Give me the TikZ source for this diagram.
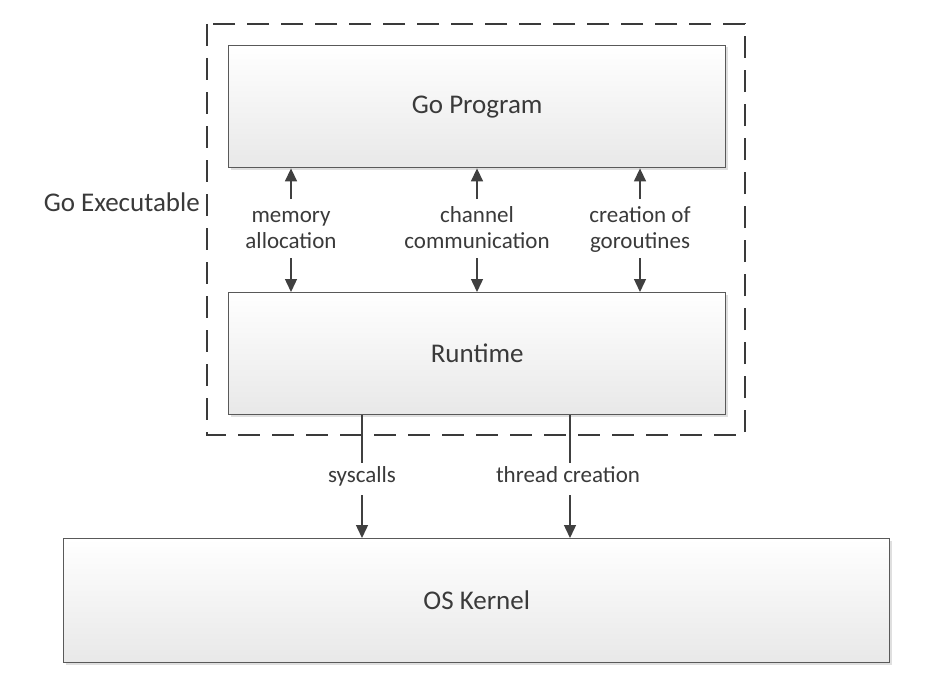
\documentclass[tikz,border=0pt]{standalone}
\usepackage{fontspec}
\setmainfont{Carlito}
\usetikzlibrary{arrows.meta,shadows,calc}
\definecolor{edge}{HTML}{595959}
\definecolor{ink}{HTML}{3A3A3A}
\definecolor{arr}{HTML}{404040}
\tikzset{
  blockbox/.style={draw=edge, line width=1.4pt, top color=white, bottom color=black!9,
    drop shadow={shadow xshift=1.8pt, shadow yshift=-1.8pt, opacity=0.25},
    inner sep=0pt, anchor=north west},
  title/.style={text=ink, font=\fontsize{27}{32}\selectfont},
  lbl/.style={text=ink, font=\fontsize{23}{26}\selectfont, align=center, inner sep=0pt, anchor=base},
  conn/.style={draw=arr, line width=1.4pt, -{Triangle[width=12pt,length=13pt]}},
  plain/.style={draw=arr, line width=1.4pt},
  exebox/.style={draw=ink, line width=1.5pt, dash pattern=on 22pt off 12pt}
}
\begin{document}
\begin{tikzpicture}[x=1pt,y=-1pt]
\fill[white] (0,0) rectangle (950,693);
\useasboundingbox (0,0) rectangle (950,693);
% executable boundary
\draw[exebox] (207,24) rectangle (745,435);
\node[lbl, anchor=base east, font=\fontsize{27}{32}\selectfont] (exe) at (200,211) {Go Executable};
% boxes
\node[blockbox, minimum width=497pt, minimum height=122pt] (gp) at (228,45) {};
\node[title] at (gp.center) (gpt) {Go Program};
\node[blockbox, minimum width=497pt, minimum height=122pt] (rt) at (228,292) {};
\node[title] at (rt.center) (rtt) {Runtime};
\node[blockbox, minimum width=826pt, minimum height=124pt] (os) at (63,538) {};
\node[title] at (os.center) (ost) {OS Kernel};
% labels between program and runtime (base = last line's baseline)
\node[lbl] (l1) at (291,248) {memory\\allocation};
\node[lbl] (l2) at (477,248) {channel\\communication};
\node[lbl] (l3) at (640,248) {creation of\\goroutines};
\foreach \n/\x in {a/291,b/477,c/640}{
  \coordinate (u\n) at (\x,199);
  \coordinate (d\n) at (\x,258);
}
\draw[conn] (ua) -- (ua |- gp.south);
\draw[conn] (ub) -- (ub |- gp.south);
\draw[conn] (uc) -- (uc |- gp.south);
\draw[conn] (da) -- (da |- rt.north);
\draw[conn] (db) -- (db |- rt.north);
\draw[conn] (dc) -- (dc |- rt.north);
% runtime to kernel
\node[lbl] (s1) at (362,482) {syscalls};
\node[lbl] (s2) at (568,482) {thread creation};
\coordinate (sa) at (362,463);
\coordinate (sb) at (362,495);
\coordinate (ta) at (570,463);
\coordinate (tb) at (570,495);
\draw[plain] (sa |- rt.south) -- (sa);
\draw[conn] (sb) -- (sb |- os.north);
\draw[plain] (ta |- rt.south) -- (ta);
\draw[conn] (tb) -- (tb |- os.north);
\end{tikzpicture}
\end{document}
